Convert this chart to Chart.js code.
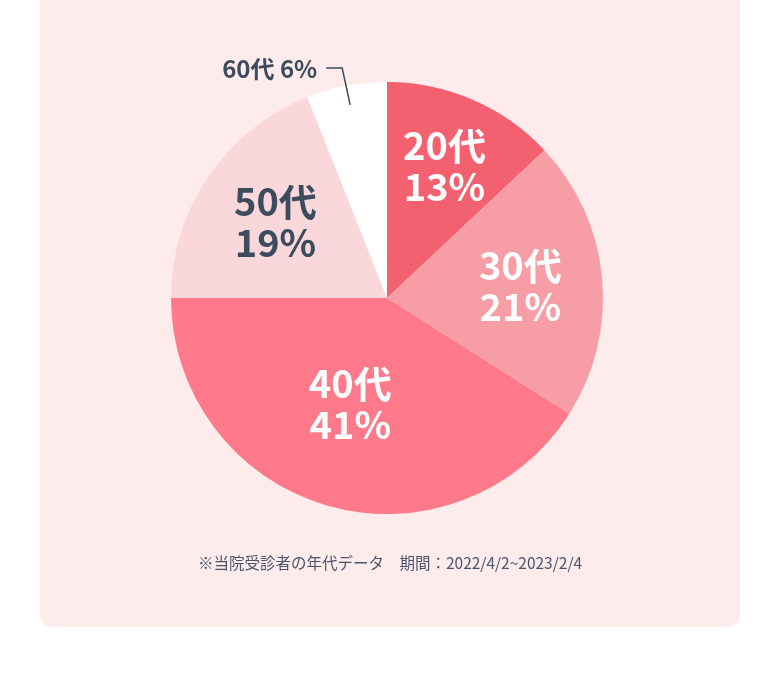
<!DOCTYPE html>
<html>
<head>
<meta charset="utf-8">
<script src="https://cdn.jsdelivr.net/npm/chart.js@4/dist/chart.umd.min.js"></script>
<style>
  html, body { margin: 0; padding: 0; background: #fff; }
  body { width: 780px; height: 699px; position: relative; overflow: hidden; }
  .card { position: absolute; left: 40px; top: -20px; width: 700px; height: 647px; background: #fdeceb; border-radius: 12px; }
  #pie { position: absolute; left: 0; top: 0; }
  .note { position: absolute; left: 0; width: 780px; top: 551px; text-align: center;
          font-family: "Noto Sans CJK JP", sans-serif; font-size: 15.5px; color: #4a556c; }
</style>
</head>
<body>
<div class="card"></div>
<canvas id="pie" width="780" height="699"></canvas>
<div class="note">※当院受診者の年代データ　期間：2022/4/2~2023/2/4</div>
<script>
// 年代別の割合 (%)
var ageLabels = ['20代', '30代', '40代', '50代', '60代'];
var ageShares = [13, 21, 41, 19, 6];
var sliceColors = ['#f3606f', '#f79da6', '#fe7a8a', '#fad7da', '#ffffff'];
var textColors = ['#ffffff', '#ffffff', '#ffffff', '#3d4b5e', '#3d4b5e'];

// 内側ラベルの位置（半径に対する比率と横方向の微調整）
var labelRadius = [0.67, 0.62, 0.51, 0.63];
var labelShiftX = [0, 0, -6, 1];

var sliceLabels = {
    id: 'sliceLabels',
    afterDatasetsDraw: function(chart) {
        var ctx = chart.ctx;
        var arcs = chart.getDatasetMeta(0).data;
        ctx.save();
        ctx.textAlign = 'center';
        ctx.textBaseline = 'middle';
        for (var i = 0; i < arcs.length; i++) {
            var a = arcs[i];
            var mid = (a.startAngle + a.endAngle) / 2;
            var txt1 = ageLabels[i];
            var txt2 = ageShares[i] + '%';
            ctx.fillStyle = textColors[i];
            if (i < 4) {
                var r = a.outerRadius * labelRadius[i];
                var x = a.x + Math.cos(mid) * r + labelShiftX[i];
                var y = a.y + Math.sin(mid) * r;
                ctx.font = 'bold 38px "Noto Sans CJK JP", sans-serif';
                ctx.fillText(txt1, x, y - 20);
                ctx.fillText(txt2, x, y + 21);
            } else {
                // 小さい区分は外側に引き出し線付きで表示
                var sx = a.x + Math.cos(mid) * a.outerRadius * 0.91;
                var sy = a.y + Math.sin(mid) * a.outerRadius * 0.91;
                var ey = a.y - a.outerRadius - 14;
                ctx.strokeStyle = '#3d4b5e';
                ctx.lineWidth = 1.5;
                ctx.beginPath();
                ctx.moveTo(sx, sy);
                ctx.lineTo(sx - 8, ey);
                ctx.lineTo(sx - 24, ey);
                ctx.stroke();
                ctx.textAlign = 'right';
                ctx.font = 'bold 24px "Noto Sans CJK JP", sans-serif';
                ctx.fillText(txt1 + ' ' + txt2, sx - 33, ey + 1);
            }
        }
        ctx.restore();
    }
};

var ctx = document.getElementById('pie').getContext('2d');
new Chart(ctx, {
    type: 'pie',
    data: {
        labels: ageLabels,
        datasets: [{
            data: ageShares,
            backgroundColor: sliceColors,
            borderWidth: 0
        }]
    },
    options: {
        responsive: false,
        animation: false,
        layout: { padding: { left: 171, right: 177, top: 82, bottom: 185 } },
        plugins: {
            legend: { display: false },
            tooltip: { enabled: false }
        }
    },
    plugins: [sliceLabels]
});
</script>
</body>
</html>
